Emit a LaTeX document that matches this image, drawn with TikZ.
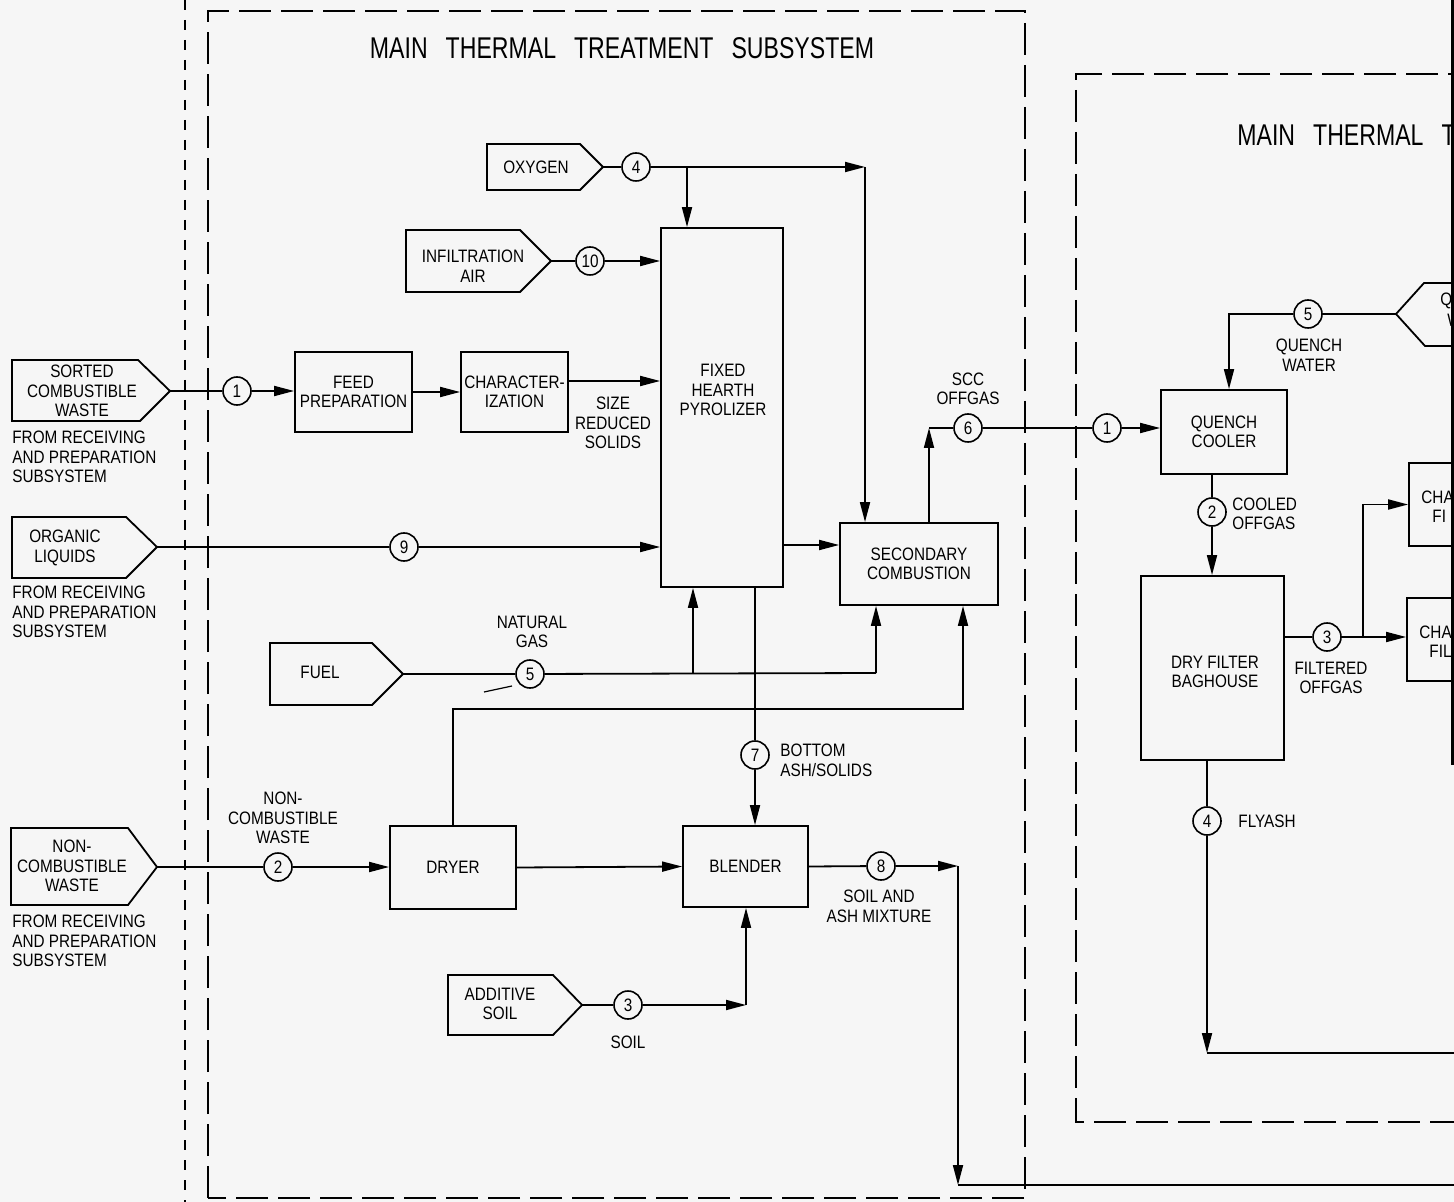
\documentclass[tikz,border=0pt]{standalone}
\usepackage{fontspec}
\setmainfont[FakeStretch=0.85]{Liberation Sans}
\newfontfamily\ttlfont[FakeStretch=0.77]{Liberation Sans}
\usetikzlibrary{arrows.meta}
\newcommand\lblfont{\fontsize{9}{9.8}\selectfont}
\newcommand\ttlsize{\ttlfont\fontsize{15}{17}\selectfont}
\definecolor{paper}{HTML}{F6F6F6}
\begin{document}
\begin{tikzpicture}[x=0.5pt,y=-0.5pt,
  ln/.style={line width=0.9pt},
  arr/.style={line width=0.9pt,-{Triangle[length=10pt,width=5pt]}},
  box/.style={draw,line width=0.9pt,inner sep=0pt,align=center,font=\lblfont},
  circ/.style={draw,circle,line width=0.8pt,minimum size=14pt,inner sep=0pt,font=\lblfont},
  lbl/.style={align=center,font=\lblfont,inner sep=0pt},
  lbll/.style={align=left,font=\lblfont,inner sep=0pt,anchor=west},
  src/.style={draw,line width=0.9pt,line join=miter},
  bnd/.style={line width=1pt,dash pattern=on 16pt off 5pt},
  fine/.style={line width=0.7pt,dash pattern=on 5pt off 5pt},
  ttl/.style={font=\ttlsize,inner sep=0pt}
]
\useasboundingbox (0,0) rectangle (1454,1202);
\fill[paper] (0,0) rectangle (1454,1202);
\clip (0,0) rectangle (1454,1202);

% ---------- boundaries ----------
\draw[fine] (185,0) -- (185,1202);
\draw[bnd] (208,1198) -- (208,11) -- (1025,11) -- (1025,1198) -- cycle;
\draw[bnd] (1480,74) -- (1076,74) -- (1076,1122) -- (1480,1122);
\draw[line width=2.5pt] (1453,0) -- (1453,765);

\node[ttl] (t1) at (622,48) {MAIN\hspace{9pt}THERMAL\hspace{9pt}TREATMENT\hspace{9pt}SUBSYSTEM};
\node[ttl,anchor=west] (t2) at (1237,135) {MAIN\hspace{9pt}THERMAL\hspace{9pt}T};

% ---------- source shapes ----------
\draw[src] (12,360) -- (138,360) -- (170,391) -- (140,421) -- (12,421) -- cycle;
\node[lbl] (sortedt) at (82,391) {SORTED\\COMBUSTIBLE\\WASTE};
\coordinate (sortedtip) at (170,391);
\node[lbll] (from1) at (12,457) {FROM RECEIVING\\AND PREPARATION\\SUBSYSTEM};

\draw[src] (12,517) -- (126,517) -- (157,547) -- (126,578) -- (12,578) -- cycle;
\node[lbl] (orgt) at (65,548) {ORGANIC\\LIQUIDS};
\coordinate (orgtip) at (157,547);
\node[lbll] (from2) at (12,612) {FROM RECEIVING\\AND PREPARATION\\SUBSYSTEM};

\draw[src] (11,828) -- (128,828) -- (157,867) -- (128,905) -- (11,905) -- cycle;
\node[lbl] (nct) at (72,866) {NON-\\COMBUSTIBLE\\WASTE};
\coordinate (nctip) at (157,867);
\node[lbll] (from3) at (12,941) {FROM RECEIVING\\AND PREPARATION\\SUBSYSTEM};

\draw[src] (487,144) -- (580,144) -- (603,167) -- (580,190) -- (487,190) -- cycle;
\node[lbl] (oxt) at (536,167) {OXYGEN};
\coordinate (oxtip) at (603,167);

\draw[src] (406,230) -- (520,230) -- (551,261) -- (520,292) -- (406,292) -- cycle;
\node[lbl] (inft) at (473,266) {INFILTRATION\\AIR};
\coordinate (inftip) at (551,261);

\draw[src] (270,643) -- (372,643) -- (403,674) -- (372,705) -- (270,705) -- cycle;
\node[lbl] (fuelt) at (320,672) {FUEL};
\coordinate (fueltip) at (403,674);

\draw[src] (448,975) -- (553,975) -- (582,1005) -- (553,1035) -- (448,1035) -- cycle;
\node[lbl] (addt) at (500,1004) {ADDITIVE\\SOIL};
\coordinate (addtip) at (582,1005);

\draw[src] (1480,283) -- (1424,283) -- (1396,314) -- (1425,346) -- (1480,346);
\node[lbll] (qwt1) at (1440,301) {QU};
\node[lbll] (qwt2) at (1447,320) {W};
\coordinate (qwtip) at (1396,314);

% ---------- process boxes ----------
\node[box,minimum width=58.5pt,minimum height=40pt] (feed) at (353.5,392) {FEED\\PREPARATION};
\node[box,minimum width=53.5pt,minimum height=40pt] (char) at (514.5,392) {CHARACTER-\\IZATION};
\node[box,minimum width=61pt,minimum height=179.5pt] (pyro) at (722,407.5) {};
\node[lbl] (pyrot) at (723,390) {FIXED\\HEARTH\\PYROLIZER};
\node[box,minimum width=79pt,minimum height=41pt] (sec) at (919,564) {SECONDARY\\COMBUSTION};
\node[box,minimum width=63pt,minimum height=41.5pt] (dryer) at (453,867.5) {DRYER};
\node[box,minimum width=62.5pt,minimum height=40.5pt] (blender) at (745.5,866.5) {BLENDER};
\node[box,minimum width=63pt,minimum height=42pt] (qc) at (1224,432) {QUENCH\\COOLER};
\node[box,minimum width=71.5pt,minimum height=92pt] (dfb) at (1212.5,668) {};
\node[lbl] (dfbt) at (1215,672) {DRY FILTER\\BAGHOUSE};
\node[box,minimum width=51pt,minimum height=41.5pt] (cf1) at (1460,504.5) {};
\node[lbll] (cf1a) at (1421,497) {CHA};
\node[lbll] (cf1b) at (1432,516) {FI};
\node[box,minimum width=51pt,minimum height=41.5pt] (cf2) at (1458,639.5) {};
\node[lbll] (cf2a) at (1419,632) {CHAR};
\node[lbll] (cf2b) at (1429,651) {FIL};

% ---------- stream circles ----------
\node[circ] (c1) at (237,391) {1};
\node[circ] (c9) at (404,547) {9};
\node[circ] (c2) at (278,867) {2};
\node[circ] (c4) at (636,167) {4};
\node[circ] (c10) at (590,261) {10};
\node[circ] (c5) at (530,674) {5};
\node[circ] (c7) at (755,755) {7};
\node[circ] (c3) at (628,1005) {3};
\node[circ] (c8) at (881,866) {8};
\node[circ] (c6) at (968,428) {6};
\node[circ] (q1) at (1107,428) {1};
\node[circ] (q5) at (1308,314) {5};
\node[circ] (q2) at (1212,512) {2};
\node[circ] (q3) at (1327,637) {3};
\node[circ] (q4) at (1207,821) {4};

% ---------- stream labels ----------
\node[lbl] (l1) at (613,423) {SIZE\\REDUCED\\SOLIDS};
\node[lbl] (l2) at (283,818) {NON-\\COMBUSTIBLE\\WASTE};
\node[lbl] (l5) at (532,632) {NATURAL\\GAS};
\node[lbll] (l7) at (780,760) {BOTTOM\\ASH/SOLIDS};
\node[lbl] (l3) at (628,1042) {SOIL};
\node[lbl] (l8) at (879,906) {SOIL AND\\ASH MIXTURE};
\node[lbl] (l6) at (968,389) {SCC\\OFFGAS};
\node[lbl] (lq5) at (1309,355) {QUENCH\\WATER};
\node[lbll] (lq2) at (1232,514) {COOLED\\OFFGAS};
\node[lbl] (lq3) at (1331,678) {FILTERED\\OFFGAS};
\node[lbll] (lq4) at (1238,821) {FLYASH};

% ---------- connectors ----------
\coordinate (oxc) at (865,167);
\coordinate (oxb) at (687,167);
\coordinate (sccup) at (929,428);
\coordinate (fb1) at (693,673);
\coordinate (fb2) at (876,673);
\coordinate (dg) at (963,709);
\coordinate (bs) at (746,1005);
\coordinate (sa1) at (958,866);
\coordinate (sa2) at (958,1185);
\coordinate (sa3) at (1480,1185);
\coordinate (qwc) at (1229,314);
\coordinate (fbr) at (1363,637);
\coordinate (fa) at (1207,1053);
\coordinate (fa2) at (1480,1053);

\draw[ln] (sortedtip) -- (c1);
\draw[arr] (c1) -- (c1 -| feed.west);
\draw[arr] (feed.east) -- (char.west);
\draw[arr] ([yshift=5.5pt]char.east) -- ([yshift=5.5pt]char.east -| pyro.west);

\draw[ln] (oxtip) -- (c4);
\draw[arr] (c4) -- (oxc);
\draw[arr] (oxc) -- (oxc |- sec.north);
\draw[arr] (oxb) -- (oxb |- pyro.north);

\draw[ln] (inftip) -- (c10);
\draw[arr] (c10) -- (c10 -| pyro.west);

\draw[ln] (orgtip) -- (c9);
\draw[arr] (c9) -- (c9 -| pyro.west);

\draw[arr] ([yshift=9.5pt]sec.west -| pyro.east) -- ([yshift=9.5pt]sec.west);

\draw[arr] (sccup |- sec.north) -- (sccup);
\draw[ln] (sccup) -- (c6);
\draw[ln] (c6) -- (q1);
\draw[arr] (q1) -- (q1 -| qc.west);

\draw[ln] (fueltip) -- (c5);
\draw[ln] (c5) -- (fb2);
\draw[arr] (fb1) -- (fb1 |- pyro.south);
\draw[arr] (fb2) -- (fb2 |- sec.south);
\draw[line width=0.6pt] (484,692) -- (512,686);

\draw[arr] (dryer.north) |- (dg) -- (dg |- sec.south);

\draw[ln] (c7 |- pyro.south) -- (c7);
\draw[arr] (c7) -- (c7 |- blender.north);

\draw[ln] (nctip) -- (c2);
\draw[arr] (c2) -- (c2 -| dryer.west);
\draw[arr] (dryer.east) -- (blender.west);

\draw[ln] (addtip) -- (c3);
\draw[arr] (c3) -- (bs);
\draw[arr] (bs) -- (bs |- blender.south);

\draw[ln] (blender.east) -- (c8);
\draw[arr] (c8) -- (sa1);
\draw[arr] (sa1) -- (sa2);
\draw[ln] (sa2) -- (sa3);

\draw[ln] (qwtip) -- (q5);
\draw[arr] (q5) -- (qwc) -- (qwc |- qc.north);

\draw[ln] (q2 |- qc.south) -- (q2);
\draw[arr] (q2) -- (q2 |- dfb.north);

\draw[ln] (q3 -| dfb.east) -- (q3);
\draw[arr] (q3) -- (q3 -| cf2.west);
\draw[arr] (fbr) |- (cf1.west);

\draw[ln] (q4 |- dfb.south) -- (q4);
\draw[arr] (q4) -- (fa);
\draw[ln] (fa) -- (fa2);
\end{tikzpicture}
\end{document}
